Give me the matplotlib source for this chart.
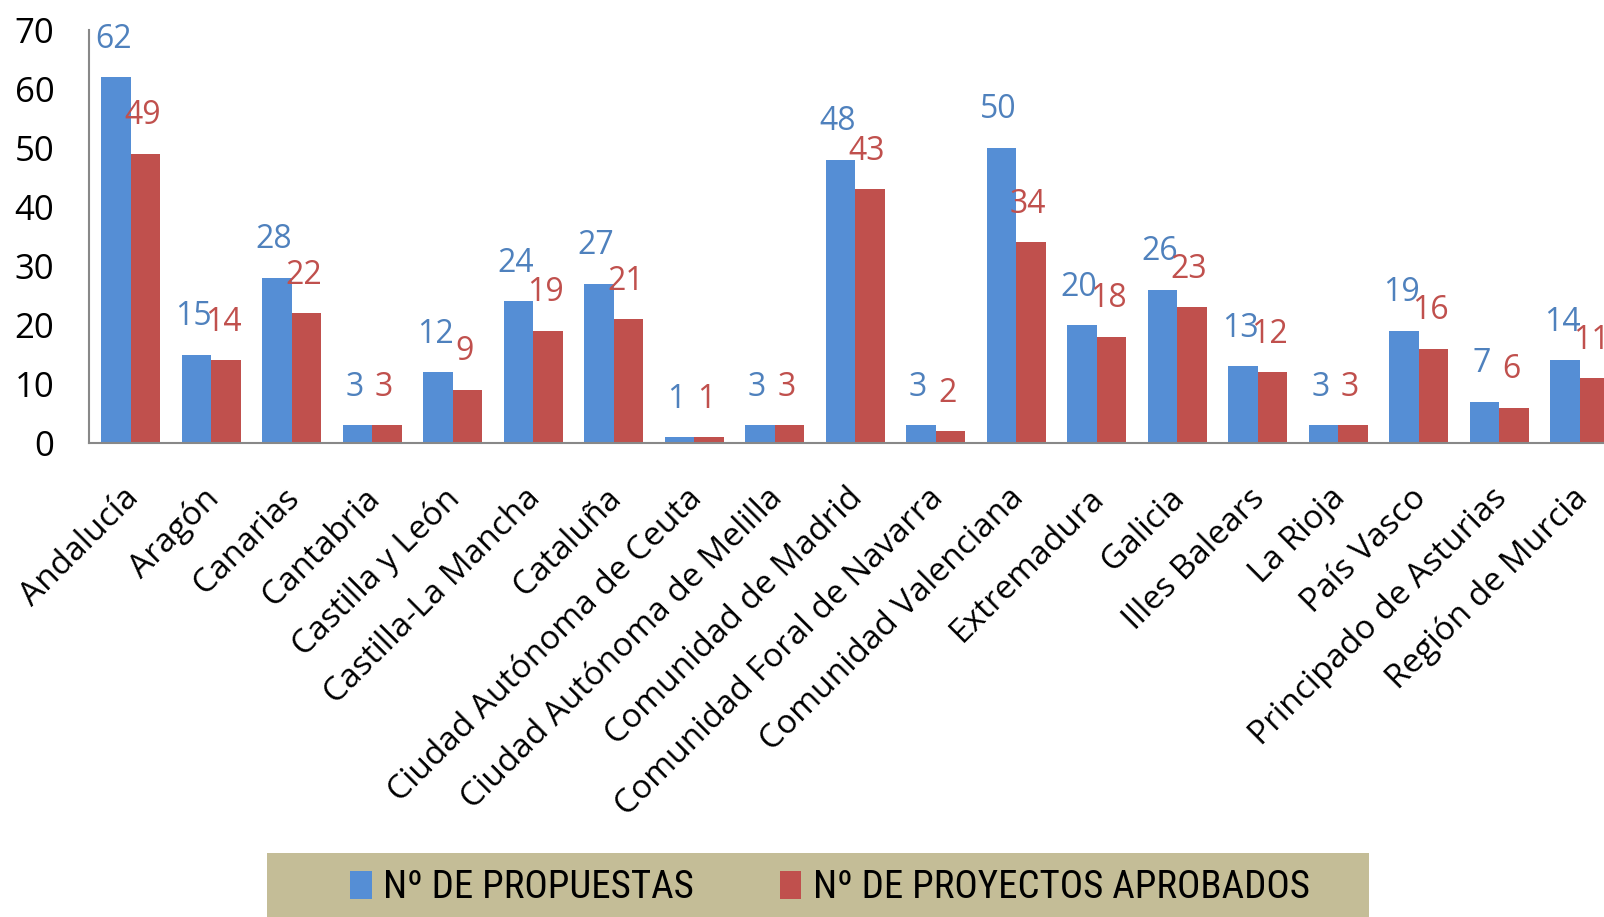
import matplotlib
matplotlib.use("Agg")
import matplotlib.pyplot as plt
from matplotlib.patches import Rectangle, Patch
import matplotlib.transforms as mtransforms
import numpy as np

categories = ["Andalucía", "Aragón", "Canarias", "Cantabria", "Castilla y León",
              "Castilla-La Mancha", "Cataluña", "Ciudad Autónoma de Ceuta",
              "Ciudad Autónoma de Melilla", "Comunidad de Madrid",
              "Comunidad Foral de Navarra", "Comunidad Valenciana", "Extremadura",
              "Galicia", "Illes Balears", "La Rioja", "País Vasco",
              "Principado de Asturias", "Región de Murcia"]
propuestas = [62, 15, 28, 3, 12, 24, 27, 1, 3, 48, 3, 50, 20, 26, 13, 3, 19, 7, 14]
aprobados = [49, 14, 22, 3, 9, 19, 21, 1, 3, 43, 2, 34, 18, 23, 12, 3, 16, 6, 11]
yticks = [0, 10, 20, 30, 40, 50, 60, 70]
series_names = ["Nº DE PROPUESTAS", "Nº DE PROYECTOS APROBADOS"]

blue = "#558ED5"
red = "#C0504D"
blue_txt = "#4F81BD"
FONT = ["Open Sans", "DejaVu Sans"]
LEGFONT = ["Roboto Condensed", "Open Sans", "DejaVu Sans"]

W, H = 1604, 917
fig = plt.figure(figsize=(W / 100, H / 100), dpi=100)
left_px, right_px = 89, 1620
bot_px, top_px = 443, 30
ax = fig.add_axes([left_px / W, 1 - bot_px / H, (right_px - left_px) / W, (bot_px - top_px) / H])

x = np.arange(len(categories))
bw = 0.366
ax.bar(x - bw / 2, propuestas, bw, color=blue, linewidth=0)
ax.bar(x + bw / 2, aprobados, bw, color=red, linewidth=0)

for xi, v in zip(x, propuestas):
    ax.annotate(str(v), (xi - bw / 2, v), xytext=(-3, 38), textcoords="offset pixels",
                ha="center", va="center", color=blue_txt, fontsize=23, family=FONT)
for xi, v in zip(x, aprobados):
    ax.annotate(str(v), (xi + bw / 2, v), xytext=(-3, 38), textcoords="offset pixels",
                ha="center", va="center", color=red, fontsize=23, family=FONT)

ax.set_xlim(-0.52, len(categories) - 0.5)
ax.set_ylim(0, 70)
ax.set_yticks(yticks)
ax.set_yticklabels([str(t) for t in yticks], family=FONT, fontsize=25)
ax.tick_params(axis="y", length=0, pad=25)
ax.set_xticks(x)
ax.set_xticklabels(categories, rotation=45, ha="right", va="top", rotation_mode="anchor",
                   family=FONT, fontsize=24)
ax.tick_params(axis="x", length=0, pad=28)
shift = mtransforms.ScaledTranslation(-9 / 100, 0, fig.dpi_scale_trans)
for lab in ax.get_xticklabels():
    lab.set_transform(lab.get_transform() + shift)
for s in ["top", "right"]:
    ax.spines[s].set_visible(False)
for s in ["left", "bottom"]:
    ax.spines[s].set_color("#888888")
    ax.spines[s].set_linewidth(1.5)

# legend band
fig.patches.append(Rectangle((267 / W, 0), (1369 - 267) / W, (917 - 853) / H,
                             transform=fig.transFigure, facecolor="#C4BD97",
                             edgecolor="none", zorder=0))
handles = [Patch(facecolor=blue, edgecolor="none"), Patch(facecolor=red, edgecolor="none")]
fig.legend(handles, series_names, loc="center", bbox_to_anchor=(830 / W, 1 - 888 / H),
           ncol=2, frameon=False, prop={"family": LEGFONT, "size": 28},
           handlelength=0.55, handleheight=0.7, handletextpad=0.3, columnspacing=2.2)

fig.savefig("out.png", dpi=100)
